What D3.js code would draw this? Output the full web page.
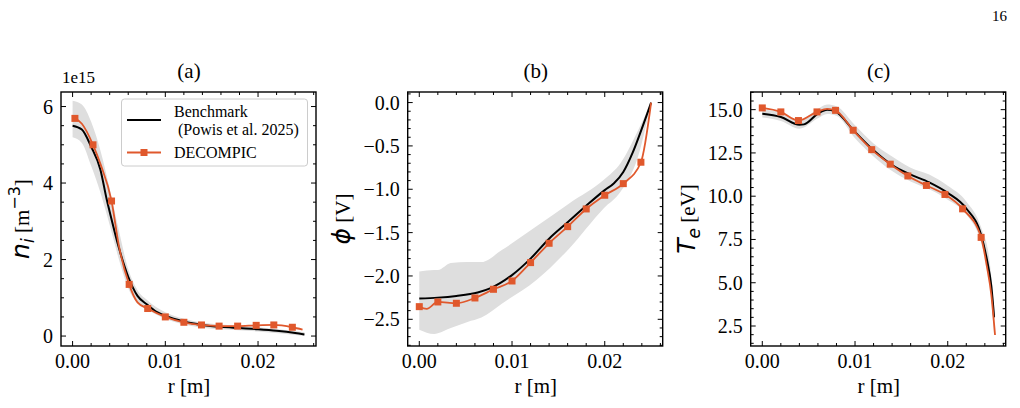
<!DOCTYPE html>
<html>
<head>
<meta charset="utf-8">
<script src="https://cdn.jsdelivr.net/npm/d3@7"></script>
<style>
  body { margin: 0; background: #fff; }
  svg { display: block; }
</style>
</head>
<body>
<script>
'use strict';

// ---- data ----
// (a) ion density, values in units of 1e15 m^-3
const niBenchR = [0, 0.001, 0.002, 0.003, 0.0037, 0.004, 0.005, 0.006, 0.007, 0.008, 0.009, 0.01, 0.012, 0.014, 0.016, 0.018, 0.02, 0.022, 0.024, 0.025];
const niBench  = [5.5, 5.4, 4.95, 4.35, 3.55, 3.25, 2.3, 1.55, 1.05, 0.83, 0.64, 0.53, 0.38, 0.29, 0.24, 0.21, 0.18, 0.14, 0.08, 0.04];
const niBandR  = [0, 0.001, 0.002, 0.003, 0.004, 0.005, 0.006, 0.007, 0.008, 0.01, 0.012, 0.014, 0.016, 0.02, 0.025];
const niBandHi = [6.15, 6.05, 5.6, 4.85, 3.85, 2.75, 1.75, 1.2, 0.95, 0.62, 0.45, 0.35, 0.3, 0.23, 0.1];
const niBandLo = [5.2, 5.05, 4.45, 3.75, 2.9, 2.0, 1.25, 0.85, 0.7, 0.45, 0.3, 0.22, 0.18, 0.12, 0.0];
const niDecR   = [0.00025, 0.001, 0.0022, 0.003, 0.0042, 0.005, 0.0061, 0.007, 0.0081, 0.01, 0.012, 0.0139, 0.0158, 0.0178, 0.0198, 0.0217, 0.0237, 0.0248];
const niDec    = [5.69, 5.55, 5.0, 4.5, 3.53, 2.35, 1.35, 0.88, 0.72, 0.5, 0.36, 0.29, 0.26, 0.26, 0.28, 0.29, 0.23, 0.17];
const niMarkR  = [0.00025, 0.0022, 0.0042, 0.0061, 0.0081, 0.01, 0.012, 0.0139, 0.0158, 0.0178, 0.0198, 0.0217, 0.0237];
const niMark   = [5.69, 5.0, 3.53, 1.35, 0.72, 0.5, 0.36, 0.29, 0.26, 0.26, 0.28, 0.29, 0.23];

// (b) potential [V]
const phiBenchR = [0, 0.002, 0.004, 0.0063, 0.0077, 0.01, 0.012, 0.014, 0.016, 0.018, 0.02, 0.021, 0.022, 0.023, 0.024, 0.025];
const phiBench  = [-2.26, -2.25, -2.23, -2.19, -2.14, -1.99, -1.8, -1.57, -1.38, -1.19, -1.01, -0.93, -0.8, -0.58, -0.3, 0.0];
const phiBandR  = [0, 0.0016, 0.002, 0.0034, 0.0052, 0.0067, 0.0089, 0.0126, 0.0162, 0.0199, 0.0217, 0.0236, 0.025];
const phiBandHi = [-1.95, -1.93, -1.93, -1.85, -1.84, -1.84, -1.7, -1.43, -1.16, -0.89, -0.7, -0.32, 0.0];
const phiBandLo = [-2.62, -2.67, -2.66, -2.6, -2.53, -2.48, -2.32, -2.05, -1.68, -1.22, -1.03, -0.62, 0.0];
const phiDecR   = [0, 0.0008, 0.002, 0.004, 0.006, 0.008, 0.01, 0.012, 0.014, 0.016, 0.018, 0.02, 0.022, 0.0239, 0.025];
const phiDec    = [-2.354, -2.38, -2.30, -2.315, -2.254, -2.154, -2.058, -1.846, -1.623, -1.431, -1.227, -1.069, -0.935, -0.688, 0.0];
const phiMarkR  = [0, 0.002, 0.004, 0.006, 0.008, 0.01, 0.012, 0.014, 0.016, 0.018, 0.02, 0.022, 0.0239];
const phiMark   = [-2.354, -2.30, -2.315, -2.254, -2.154, -2.058, -1.846, -1.623, -1.431, -1.227, -1.069, -0.935, -0.688];

// (c) electron temperature [eV]
const teBenchR = [0, 0.002, 0.004, 0.0045, 0.006, 0.007, 0.0078, 0.01, 0.012, 0.014, 0.016, 0.018, 0.02, 0.022, 0.0236, 0.0242, 0.0247, 0.025];
const teBench  = [14.77, 14.58, 14.13, 14.15, 14.77, 15.0, 14.92, 13.71, 12.65, 11.8, 11.25, 10.8, 10.19, 9.29, 7.75, 6.4, 4.8, 3.0];
const teBandR  = [0, 0.002, 0.004, 0.006, 0.007, 0.008, 0.01, 0.012, 0.014, 0.016, 0.018, 0.02, 0.022, 0.0236, 0.0245, 0.025];
const teBandHi = [15.0, 14.85, 14.4, 15.05, 15.3, 15.2, 14.1, 13.05, 12.3, 11.65, 11.25, 10.6, 9.7, 8.2, 6.3, 3.5];
const teBandLo = [14.55, 14.35, 13.9, 14.5, 14.75, 14.65, 13.35, 12.3, 11.45, 10.85, 10.4, 9.8, 8.95, 7.3, 5.1, 2.0];
const teDecR   = [0, 0.002, 0.0039, 0.0059, 0.007, 0.0079, 0.0098, 0.0118, 0.0138, 0.0157, 0.0177, 0.0197, 0.0216, 0.0236, 0.0242, 0.0247, 0.0251];
const teDec    = [15.1, 14.87, 14.37, 14.87, 15.05, 14.96, 13.81, 12.69, 11.85, 11.17, 10.62, 10.10, 9.27, 7.62, 6.0, 4.3, 1.98];
const teMarkR  = [0, 0.002, 0.0039, 0.0059, 0.0079, 0.0098, 0.0118, 0.0138, 0.0157, 0.0177, 0.0197, 0.0216, 0.0236];
const teMark   = [15.1, 14.87, 14.37, 14.87, 14.96, 13.81, 12.69, 11.85, 11.17, 10.62, 10.10, 9.27, 7.62];

// tick labels
const xTicks = [0, 0.01, 0.02];
const niTicks = [0, 2, 4, 6];
const phiTicks = [0, -0.5, -1.0, -1.5, -2.0, -2.5];
const teTicks = [2.5, 5.0, 7.5, 10.0, 12.5, 15.0];

const ORANGE = '#e0582c';
const BAND = '#dedede';
const SERIF = "'Liberation Serif', 'Times New Roman', serif";
const SANS = "'DejaVu Sans', sans-serif";

const svg = d3.select('body').append('svg')
  .attr('width', 1020)
  .attr('height', 408);

// page number
svg.append('text')
  .attr('x', 1007).attr('y', 21)
  .attr('text-anchor', 'end')
  .style('font-family', SERIF).style('font-size', '15px')
  .text('16');

const zip = (a, b) => a.map((v, i) => [v, b[i]]);

function drawPanel(p) {
  const x = d3.scaleLinear().domain([-0.00125, 0.02625]).range([p.left, p.left + 255]);
  const y = d3.scaleLinear().domain(p.yDom).range([346, 92]);
  const g = svg.append('g');

  // uncertainty band
  const band = d3.area()
    .x(d => x(d[0])).y0(d => y(d[2])).y1(d => y(d[1]))
    .curve(d3.curveMonotoneX);
  g.append('path')
    .datum(p.bandR.map((r, i) => [r, p.bandHi[i], p.bandLo[i]]))
    .attr('fill', BAND)
    .attr('d', band);

  const line = d3.line().x(d => x(d[0])).y(d => y(d[1])).curve(d3.curveMonotoneX);

  g.append('path')
    .datum(zip(p.benchR, p.bench))
    .attr('fill', 'none').attr('stroke', '#000').attr('stroke-width', 2)
    .attr('d', line);

  g.append('path')
    .datum(zip(p.decR, p.dec))
    .attr('fill', 'none').attr('stroke', ORANGE).attr('stroke-width', 1.8)
    .attr('d', line);

  g.selectAll('.mk')
    .data(zip(p.markR, p.mark))
    .enter().append('rect')
    .attr('x', d => x(d[0]) - 3.5)
    .attr('y', d => y(d[1]) - 3.5)
    .attr('width', 7).attr('height', 7)
    .attr('fill', ORANGE);

  // frame
  g.append('rect')
    .attr('x', p.left).attr('y', 92)
    .attr('width', 255).attr('height', 254)
    .attr('fill', 'none').attr('stroke', '#000').attr('stroke-width', 1.4);

  // ticks, inward on all four sides
  const xMinor = d3.range(0, 0.0261, 0.002).filter(v => !xTicks.some(t => Math.abs(t - v) < 1e-9));
  const [y0, y1] = p.yDom;
  const yMinor = d3.range(Math.ceil(y0 / p.yMinor) * p.yMinor, y1, p.yMinor)
    .filter(v => !p.yTicks.some(t => Math.abs(t - v) < 1e-9));

  const tk = g.append('g').attr('stroke', '#000').attr('stroke-width', 1);
  function xt(vals, len) {
    vals.forEach(v => {
      tk.append('line').attr('x1', x(v)).attr('x2', x(v)).attr('y1', 346).attr('y2', 346 - len);
      tk.append('line').attr('x1', x(v)).attr('x2', x(v)).attr('y1', 92).attr('y2', 92 + len);
    });
  }
  function yt(vals, len) {
    vals.forEach(v => {
      tk.append('line').attr('y1', y(v)).attr('y2', y(v)).attr('x1', p.left).attr('x2', p.left + len);
      tk.append('line').attr('y1', y(v)).attr('y2', y(v)).attr('x1', p.left + 255).attr('x2', p.left + 255 - len);
    });
  }
  xt(xTicks, 5); xt(xMinor, 3);
  yt(p.yTicks, 5); yt(yMinor, 3);

  // tick labels
  g.selectAll('.xl')
    .data(xTicks).enter().append('text')
    .attr('x', d => x(d)).attr('y', 368)
    .attr('text-anchor', 'middle')
    .style('font-family', SERIF).style('font-size', '20px')
    .text(d3.format('.2f'));

  g.selectAll('.yl')
    .data(p.yTicks).enter().append('text')
    .attr('x', p.left - 8).attr('y', d => y(d) + 7)
    .attr('text-anchor', 'end')
    .style('font-family', SERIF).style('font-size', '20px')
    .text(p.yFmt);

  // title and x label
  g.append('text')
    .attr('x', p.left + 128).attr('y', 78)
    .attr('text-anchor', 'middle')
    .style('font-family', SERIF).style('font-size', '21px')
    .text(p.title);

  g.append('text')
    .attr('x', p.left + 128).attr('y', 393)
    .attr('text-anchor', 'middle')
    .style('font-family', SERIF).style('font-size', '21px')
    .text('r [m]');

  // y label built from pieces (math italic + roman)
  const yl = g.append('text')
    .attr('transform', 'translate(' + p.yLabelX + ',219) rotate(-90)')
    .attr('text-anchor', 'middle');
  p.yLabel.forEach(s => {
    yl.append('tspan')
      .attr('dy', s.dy || 0)
      .style('font-family', s.math ? SANS : SERIF)
      .style('font-style', s.italic ? 'italic' : 'normal')
      .style('font-size', s.size + 'px')
      .text(s.t);
  });
  return { x: x, y: y };
}

drawPanel({
  left: 61, yLabelX: 29, title: '(a)', yDom: [-0.26, 6.38], yTicks: niTicks, yMinor: 0.5, yFmt: d3.format('d'),
  benchR: niBenchR, bench: niBench, bandR: niBandR, bandHi: niBandHi, bandLo: niBandLo,
  decR: niDecR, dec: niDec, markR: niMarkR, mark: niMark,
  yLabel: [
    { t: 'n', math: true, italic: true, size: 25 },
    { t: 'i', math: true, italic: true, size: 17, dy: 5 },
    { t: ' [m', size: 21, dy: -5 },
    { t: '−3', math: true, size: 16, dy: -9 },
    { t: ']', size: 21, dy: 9 }
  ]
});

drawPanel({
  left: 407.7, yLabelX: 350, title: '(b)', yDom: [-2.808, 0.122], yTicks: phiTicks, yMinor: 0.1, yFmt: d3.format('.1f'),
  benchR: phiBenchR, bench: phiBench, bandR: phiBandR, bandHi: phiBandHi, bandLo: phiBandLo,
  decR: phiDecR, dec: phiDec, markR: phiMarkR, mark: phiMark,
  yLabel: [
    { t: 'ϕ', math: true, italic: true, size: 25 },
    { t: ' [V]', size: 21 }
  ]
});

drawPanel({
  left: 750.7, yLabelX: 695, title: '(c)', yDom: [1.345, 16.02], yTicks: teTicks, yMinor: 0.5, yFmt: d3.format('.1f'),
  benchR: teBenchR, bench: teBench, bandR: teBandR, bandHi: teBandHi, bandLo: teBandLo,
  decR: teDecR, dec: teDec, markR: teMarkR, mark: teMark,
  yLabel: [
    { t: 'T', math: true, italic: true, size: 25 },
    { t: 'e', math: true, italic: true, size: 17, dy: 5 },
    { t: ' [eV]', size: 21, dy: -5 }
  ]
});

// offset text for panel (a)
svg.append('text')
  .attr('x', 62).attr('y', 83)
  .style('font-family', SERIF).style('font-size', '17px')
  .text('1e15');

// legend in panel (a)
const lg = svg.append('g');
lg.append('rect')
  .attr('x', 121.5).attr('y', 99)
  .attr('width', 186).attr('height', 67)
  .attr('rx', 3)
  .attr('fill', '#fff').attr('fill-opacity', 0.85)
  .attr('stroke', '#cccccc').attr('stroke-width', 1);
lg.append('line')
  .attr('x1', 127).attr('x2', 161).attr('y1', 120).attr('y2', 120)
  .attr('stroke', '#000').attr('stroke-width', 2);
lg.append('line')
  .attr('x1', 127).attr('x2', 161).attr('y1', 152.5).attr('y2', 152.5)
  .attr('stroke', ORANGE).attr('stroke-width', 1.8);
lg.append('rect')
  .attr('x', 140.5).attr('y', 149).attr('width', 7).attr('height', 7)
  .attr('fill', ORANGE);
[['Benchmark', 174, 117], [' (Powis et al. 2025)', 174, 135], ['DECOMPIC', 174, 158]].forEach(d => {
  lg.append('text')
    .attr('x', d[1]).attr('y', d[2])
    .attr('xml:space', 'preserve')
    .style('white-space', 'pre')
    .style('font-family', SERIF).style('font-size', '16px')
    .text(d[0]);
});
</script>
</body>
</html>
